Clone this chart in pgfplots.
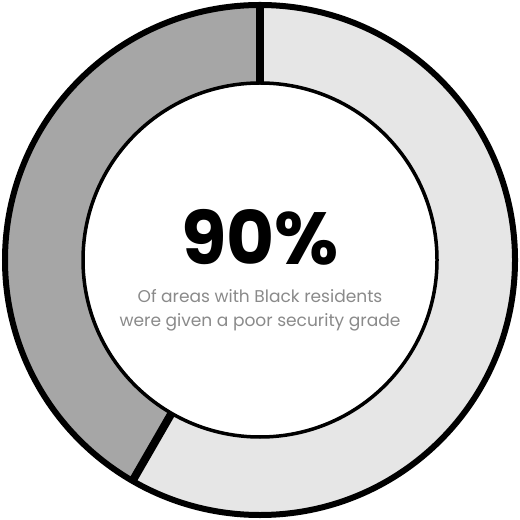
\documentclass[border=0pt]{standalone}
\usepackage{pgfplots}
\usepackage{pgfplotstable}
\pgfplotsset{compat=1.18}
\usepackage{fontspec}
\setmainfont{Poppins}
\definecolor{lightseg}{HTML}{E6E6E6}
\definecolor{darkseg}{HTML}{A6A6A6}
\definecolor{subgray}{HTML}{8A8A8A}
\pgfplotstableread{
label value
Light 58.33
Dark 41.67
}\donutdata
\begin{document}
\begin{tikzpicture}
\pgfplotstablegetelem{0}{value}\of\donutdata \let\va\pgfplotsretval
\pgfplotstablegetelem{1}{value}\of\donutdata \let\vb\pgfplotsretval
\pgfmathsetmacro{\aS}{90}
\pgfmathsetmacro{\aM}{90-3.6*\va}
\pgfmathsetmacro{\aE}{\aM-3.6*\vb}
\pgfmathsetmacro{\Ro}{2.55}
\pgfmathsetmacro{\Ri}{1.77}
\begin{axis}[hide axis, x=1cm, y=1cm, xmin=-2.6, xmax=2.6, ymin=-2.6, ymax=2.6, clip=false, anchor=origin, at={(0,0)}]
% light segment
\fill[lightseg] (axis cs:{\Ro*cos(\aS)},{\Ro*sin(\aS)}) arc[start angle=\aS, end angle=\aM, radius=\Ro cm]
  -- (axis cs:{\Ri*cos(\aM)},{\Ri*sin(\aM)}) arc[start angle=\aM, end angle=\aS, radius=\Ri cm] -- cycle;
% dark segment
\fill[darkseg] (axis cs:{\Ro*cos(\aM)},{\Ro*sin(\aM)}) arc[start angle=\aM, end angle=\aE, radius=\Ro cm]
  -- (axis cs:{\Ri*cos(\aE)},{\Ri*sin(\aE)}) arc[start angle=\aE, end angle=\aM, radius=\Ri cm] -- cycle;
% borders
\draw[black, line width=0.06cm] (axis cs:0,0) circle[radius=2.55cm];
\draw[black, line width=0.035cm] (axis cs:0,0) circle[radius=1.77cm];
\draw[black, line width=0.08cm] (axis cs:{\Ri*cos(\aS)},{\Ri*sin(\aS)}) -- (axis cs:{\Ro*cos(\aS)},{\Ro*sin(\aS)});
\draw[black, line width=0.08cm] (axis cs:{\Ri*cos(\aM)},{\Ri*sin(\aM)}) -- (axis cs:{\Ro*cos(\aM)},{\Ro*sin(\aM)});
\node[font=\fontsize{21}{23}\selectfont\bfseries, anchor=center] at (axis cs:0,0.23) {90\%};
\node[font=\fontsize{4.85}{6.8}\selectfont, text=subgray, align=center, anchor=center] at (axis cs:0,-0.50) {Of areas with Black residents\\were given a poor security grade};
\end{axis}
\pgfresetboundingbox
\useasboundingbox (-2.6,-2.6) rectangle (2.6,2.6);
\end{tikzpicture}
\end{document}
